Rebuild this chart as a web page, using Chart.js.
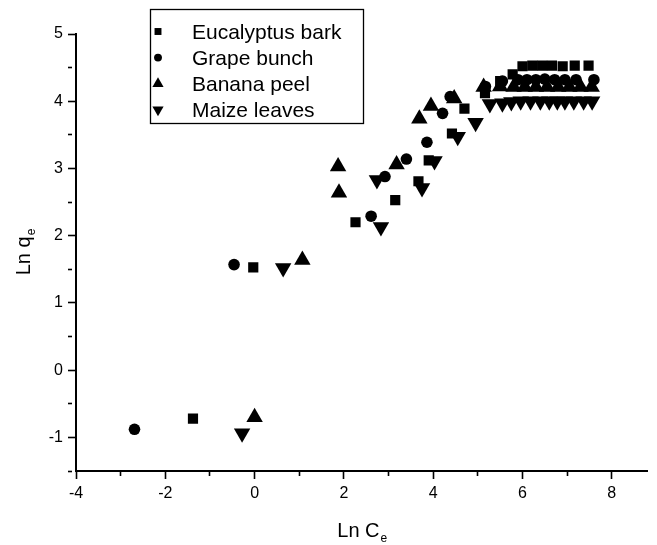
<!DOCTYPE html>
<html>
<head>
<meta charset="utf-8">
<script src="https://cdn.jsdelivr.net/npm/chart.js@4.4.1/dist/chart.umd.min.js"></script>
<style>
  html, body { margin: 0; padding: 0; background: #fff; }
</style>
</head>
<body>
<canvas id="isotherm" width="657" height="545"></canvas>
<script>
// Ln Ce (x) / Ln qe (y) for each biosorbent
var seriesNames = ["Eucalyptus bark", "Grape bunch", "Banana peel", "Maize leaves"];

var eucX = [-1.38, -0.03, 2.26, 3.15, 3.67, 3.90, 4.42, 4.70, 5.16, 5.50, 5.78, 6.00, 6.22, 6.44, 6.66, 6.90, 7.17, 7.48];
var eucY = [-0.72, 1.53, 2.20, 2.53, 2.81, 3.12, 3.52, 3.89, 4.12, 4.30, 4.40, 4.52, 4.53, 4.53, 4.53, 4.52, 4.53, 4.53];

var grapeX = [-2.69, -0.46, 2.61, 2.92, 3.40, 3.86, 4.21, 4.38, 5.17, 5.55, 5.90, 6.10, 6.30, 6.50, 6.72, 6.95, 7.20, 7.60];
var grapeY = [-0.88, 1.57, 2.29, 2.88, 3.14, 3.39, 3.82, 4.07, 4.22, 4.30, 4.32, 4.32, 4.32, 4.33, 4.32, 4.32, 4.32, 4.32];

var bananaX = [0.00, 1.07, 1.87, 1.89, 3.18, 3.69, 3.95, 4.47, 5.13, 5.50, 5.80, 6.05, 6.30, 6.55, 6.80, 7.05, 7.30, 7.55];
var bananaY = [-0.70, 1.64, 3.03, 2.64, 3.06, 3.74, 3.93, 4.04, 4.21, 4.22, 4.21, 4.21, 4.21, 4.21, 4.21, 4.21, 4.21, 4.21];

var maizeX = [-0.28, 0.64, 2.74, 2.83, 3.75, 4.03, 4.55, 4.95, 5.27, 5.55, 5.75, 5.96, 6.18, 6.40, 6.60, 6.78, 6.95, 7.15, 7.37, 7.56];
var maizeY = [-0.94, 1.52, 2.83, 2.13, 2.71, 3.11, 3.47, 3.68, 3.96, 3.97, 3.99, 4.00, 4.00, 4.00, 4.00, 4.00, 4.00, 4.00, 4.00, 4.00];

var FONT = '"Liberation Sans", Arial, Helvetica, sans-serif';

function toPoints(xs, ys) {
  return xs.map(function (x, i) { return { x: x, y: ys[i] }; });
}

function series(name, xs, ys, style, radius, rotation) {
  return {
    label: name,
    data: toPoints(xs, ys),
    pointStyle: style,
    pointRadius: radius,
    pointRotation: rotation || 0,
    pointBorderWidth: 0,
    pointBackgroundColor: "#000",
    pointHoverRadius: radius,
    showLine: false
  };
}

// subscripted axis title, e.g. "Ln C" + "e"
function drawSubText(ctx, main, sub, cx, baseY) {
  var big = "20px " + FONT, small = "12px " + FONT;
  ctx.font = big;
  var w1 = ctx.measureText(main).width;
  ctx.font = small;
  var w2 = ctx.measureText(sub).width;
  var x = cx - (w1 + w2) / 2;
  ctx.textAlign = "left";
  ctx.textBaseline = "alphabetic";
  ctx.font = big;
  ctx.fillText(main, x, baseY);
  ctx.font = small;
  ctx.fillText(sub, x + w1 + 1, baseY + 5);
}

var axisTitles = {
  id: "axisTitles",
  afterDraw: function (chart) {
    var ctx = chart.ctx, area = chart.chartArea;
    ctx.save();
    ctx.fillStyle = "#000";
    drawSubText(ctx, "Ln C", "e", (area.left + area.right) / 2, 537);
    ctx.translate(30, (area.top + area.bottom) / 2);
    ctx.rotate(-Math.PI / 2);
    drawSubText(ctx, "Ln q", "e", 0, 0);
    ctx.restore();
  }
};

// boxed legend sitting inside the plot
var boxLegend = {
  id: "boxLegend",
  afterDraw: function (chart) {
    var ctx = chart.ctx;
    var left = 150, top = 9, w = 213, h = 114;
    ctx.save();
    ctx.strokeStyle = "#000";
    ctx.lineWidth = 1.3;
    ctx.strokeRect(left + 0.5, top + 0.5, w, h);
    ctx.font = "21px " + FONT;
    ctx.textAlign = "left";
    ctx.textBaseline = "alphabetic";
    chart.data.datasets.forEach(function (ds, i) {
      var base = 38.5 + i * 26.1;
      ctx.fillStyle = "#000";
      Chart.helpers.drawPoint(ctx, {
        pointStyle: ds.pointStyle,
        rotation: ds.pointRotation,
        radius: ds.pointRadius * 0.68,
        borderWidth: 0
      }, 158, base - 7);
      ctx.fillText(ds.label, 192, base);
    });
    ctx.restore();
  }
};

new Chart("isotherm", {
  type: "scatter",
  data: {
    datasets: [
      series(seriesNames[0], eucX, eucY, "rect", 7.2),
      series(seriesNames[1], grapeX, grapeY, "circle", 5.8),
      series(seriesNames[2], bananaX, bananaY, "triangle", 9.5),
      series(seriesNames[3], maizeX, maizeY, "triangle", 9.5, 180)
    ]
  },
  options: {
    responsive: false,
    devicePixelRatio: 1,
    animation: false,
    events: [],
    layout: { padding: { top: 34, right: 2, left: 0, bottom: 0 } },
    plugins: {
      legend: { display: false },
      tooltip: { enabled: false }
    },
    scales: {
      x: {
        type: "linear",
        position: "bottom",
        min: -4,
        max: 8.8,
        afterFit: function (s) { s.height = 74; },
        border: { display: true, color: "#000", width: 2 },
        grid: {
          drawOnChartArea: false,
          drawTicks: true,
          tickLength: 8,
          tickColor: "#000",
          tickWidth: 1.6,
          tickBorderDash: function (c) {
            return c.tick && c.tick.value % 2 !== 0 ? [4, 20] : [];
          }
        },
        ticks: {
          stepSize: 1,
          includeBounds: false,
          autoSkip: false,
          maxRotation: 0,
          padding: 5,
          color: "#000",
          font: { family: FONT, size: 16 },
          callback: function (v) { return v % 2 === 0 ? v : ""; }
        }
      },
      y: {
        type: "linear",
        min: -1.5,
        max: 5,
        afterFit: function (s) { s.width = 76; },
        border: { display: true, color: "#000", width: 2 },
        grid: {
          drawOnChartArea: false,
          drawTicks: true,
          tickLength: 8,
          tickColor: "#000",
          tickWidth: 1.6,
          tickBorderDash: function (c) {
            return c.tick && !Number.isInteger(c.tick.value) ? [4, 20] : [];
          }
        },
        ticks: {
          stepSize: 0.5,
          autoSkip: false,
          padding: 5,
          color: "#000",
          font: { family: FONT, size: 16 },
          callback: function (v) { return Number.isInteger(v) ? v : ""; }
        }
      }
    }
  },
  plugins: [axisTitles, boxLegend]
});
</script>
</body>
</html>
